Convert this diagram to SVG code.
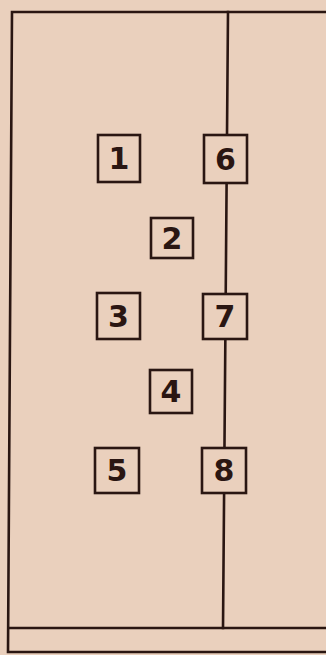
<svg xmlns="http://www.w3.org/2000/svg" width="326" height="655" viewBox="0 0 326 655">
<style>
.ln{stroke:#2a1612;stroke-width:2.6;fill:none;stroke-linecap:square}
.bx{fill:#ead0bd;stroke:#2a1612;stroke-width:2.6}
.t{font-family:"DejaVu Sans",sans-serif;font-weight:bold;font-size:30px;fill:#2a1612;text-anchor:middle}
</style>
<rect width="326" height="655" fill="#ead0bd"/>
<g id="frame">
<path class="ln" d="M326,12 L12,12 L8,652 L326,652"/>
<path class="ln" d="M9,628 L326,628"/>
</g>
<g id="connectors">
<path class="ln" d="M228,12 L223,628"/>
</g>
<g id="n1"><rect class="bx" x="98" y="135" width="42" height="47"/><text class="t" x="119" y="169">1</text></g>
<g id="n6"><rect class="bx" x="204" y="135" width="43" height="48"/><text class="t" x="225.5" y="170">6</text></g>
<g id="n2"><rect class="bx" x="151" y="218" width="42" height="40"/><text class="t" x="172" y="249">2</text></g>
<g id="n3"><rect class="bx" x="97" y="293" width="43" height="46"/><text class="t" x="118.5" y="327">3</text></g>
<g id="n7"><rect class="bx" x="203" y="294" width="44" height="45"/><text class="t" x="225" y="327">7</text></g>
<g id="n4"><rect class="bx" x="150" y="370" width="42" height="43"/><text class="t" x="171" y="402">4</text></g>
<g id="n5"><rect class="bx" x="95" y="448" width="44" height="45"/><text class="t" x="117" y="481">5</text></g>
<g id="n8"><rect class="bx" x="202" y="448" width="44" height="45"/><text class="t" x="224" y="481">8</text></g>
</svg>
